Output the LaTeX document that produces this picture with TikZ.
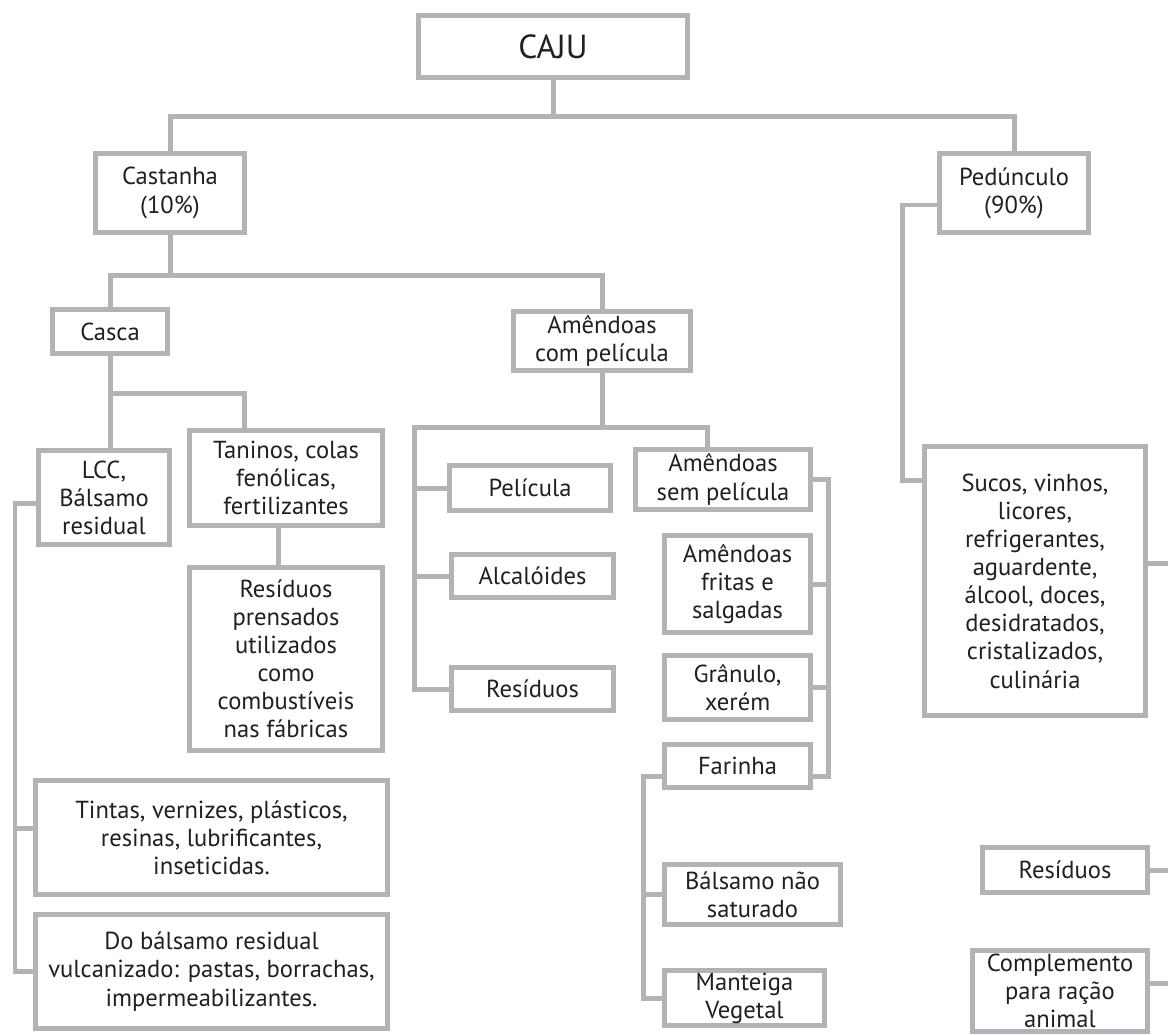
\documentclass[tikz,border=0pt]{standalone}
\usepackage{fontspec}
\setmainfont{PT Sans}
\usepackage{tikz}
\definecolor{linegray}{RGB}{178,179,182}
\definecolor{inkblack}{RGB}{35,31,32}

\begin{document}
\begin{tikzpicture}[x=0.02cm,y=-0.02cm,
    box/.style={draw=linegray, line width=0.1cm, fill=white, inner sep=0pt, align=center,
      text=inkblack, font=\fontsize{14}{16}\selectfont},
    link/.style={draw=linegray, line width=0.1cm}]
            \useasboundingbox (0,0) rectangle (1168,1034);
            \clip (0,0) rectangle (1168,1034);
            \node [box, minimum width=5.38cm, minimum height=1.24cm, font=\fontsize{19}{22}\selectfont] (caju) at (553,46.5) {CAJU};
            \node [box, minimum width=2.98cm, minimum height=1.58cm] (cast) at (170,193) {Castanha\\(10\%)};
            \node [box, minimum width=2.98cm, minimum height=1.58cm] (ped) at (1014,193) {Pedúnculo\\(90\%)};
            \node [box, minimum width=2.30cm, minimum height=0.88cm] (casca) at (110,331.5) {Casca};
            \node [box, minimum width=3.54cm, minimum height=1.18cm] (acp) at (602,341) {Amêndoas\\com película};
            \node [box, minimum width=2.62cm, minimum height=1.88cm] (lcc) at (104,497.5) {LCC,\\Bálsamo\\residual};
            \node [box, minimum width=3.86cm, minimum height=1.90cm] (tan) at (286,478) {Taninos, colas\\fenólicas,\\fertilizantes};
            \node [box, minimum width=3.86cm, minimum height=3.66cm] (resp) at (286,659) {Resíduos\\prensados\\utilizados\\como\\combustíveis\\nas fábricas};
            \node [box, minimum width=7.04cm, minimum height=2.28cm] (tint) at (211.5,837.5) {Tintas, vernizes, plásticos,\\resinas, lubrificantes,\\inseticidas.};
            \node [box, minimum width=7.04cm, minimum height=2.28cm] (dob) at (211.5,971.5) {Do bálsamo residual\\vulcanizado: pastas, borrachas,\\impermeabilizantes.};
            \node [box, minimum width=3.22cm, minimum height=0.90cm] (pel) at (530,488) {Película};
            \node [box, minimum width=3.24cm, minimum height=0.86cm] (alc) at (532.5,576) {Alcalóides};
            \node [box, minimum width=3.24cm, minimum height=0.86cm] (resa) at (532.5,689) {Resíduos};
            \node [box, minimum width=3.50cm, minimum height=1.20cm] (asp) at (723,479.5) {Amêndoas\\sem película};
            \node [box, minimum width=2.92cm, minimum height=1.94cm] (afs) at (737.5,584) {Amêndoas\\fritas e\\salgadas};
            \node [box, minimum width=2.92cm, minimum height=1.28cm] (gra) at (737.5,687.5) {Grânulo,\\xerém};
            \node [box, minimum width=2.92cm, minimum height=0.86cm] (far) at (737.5,766) {Farinha};
            \node [box, minimum width=3.52cm, minimum height=1.20cm] (bns) at (752.5,894.5) {Bálsamo não\\saturado};
            \node [box, minimum width=3.20cm, minimum height=1.10cm] (mant) at (744.5,998) {Manteiga\\Vegetal};
            \node [box, minimum width=4.42cm, minimum height=5.38cm] (suc) at (1035,581) {Sucos, vinhos,\\licores,\\refrigerantes,\\aguardente,\\álcool, doces,\\desidratados,\\cristalizados,\\culinária};
            \node [box, minimum width=3.30cm, minimum height=0.90cm] (resr) at (1065,870) {Resíduos};
            \node [box, minimum width=3.50cm, minimum height=1.62cm] (comp) at (1060,991) {Complemento\\para ração\\animal};
            \coordinate (tanin) at ([xshift=-0.84cm]tan.north);
            \coordinate (lccl) at ([yshift=-0.11cm]lcc.west);
            \coordinate (tintl) at ([yshift=0.19cm]tint.west);
            \coordinate (lspine) at (15,0);
            \coordinate (mspine) at (414,427);
            \coordinate (aspin) at ([xshift=-0.32cm]asp.north);
            \coordinate (rspine) at (828,0);
            \coordinate (farr) at ([yshift=-0.2cm]far.east);
            \coordinate (farl) at ([yshift=-0.2cm]far.west);
            \coordinate (fspine) at (643,0);
            \coordinate (mantl) at ([yshift=0.0cm]mant.west);
            \coordinate (pedl) at ([yshift=-0.24cm]ped.west);
            \coordinate (sucl) at ([yshift=2.02cm]suc.west);
            \coordinate (pspine) at (902,0);
            \coordinate (sucr) at ([yshift=0.36cm]suc.east);
            \coordinate (compr) at ([yshift=0.16cm]comp.east);
            \coordinate (redge) at (1190,0);
            \draw [link] (caju.south) -- ++(0,36.5) -| (cast.north);
            \draw [link] (caju.south) -- ++(0,36.5) -| (ped.north);
            \draw [link] (cast.south) -- ++(0,40.5) -| (casca.north);
            \draw [link] (cast.south) -- ++(0,40.5) -| (acp.north);
            \draw [link] (casca.south) -- (casca.south |- lcc.north);
            \draw [link] (casca.south) -- ++(0,37.5) -| (tanin);
            \draw [link] ([xshift=-0.16cm]tan.south) -- ([xshift=-0.16cm]resp.north);
            \draw [link] (lccl) -| (lspine |- dob.west) -- (dob.west);
            \draw [link] (tintl -| lspine) -- (tintl);
            \draw [link] (acp.south) |- (mspine) |- (resa.west);
            \draw [link] (mspine |- pel.west) -- (pel.west);
            \draw [link] (mspine |- alc.west) -- (alc.west);
            \draw [link] (acp.south) |- (aspin |- mspine) -- (aspin);
            \draw [link] (asp.east) -| (rspine |- farr) -- (farr);
            \draw [link] (afs.east) -- (afs.east -| rspine);
            \draw [link] (gra.east) -- (gra.east -| rspine);
            \draw [link] (farl) -| (fspine |- mantl) -- (mantl);
            \draw [link] (bns.west -| fspine) -- (bns.west);
            \draw [link] (pedl) -| (pspine |- sucl) -- (sucl);
            \draw [link] (sucr) -- (sucr -| redge);
            \draw [link] (resr.east) -- (resr.east -| redge);
            \draw [link] (compr) -- (compr -| redge);
\end{tikzpicture}
\end{document}
